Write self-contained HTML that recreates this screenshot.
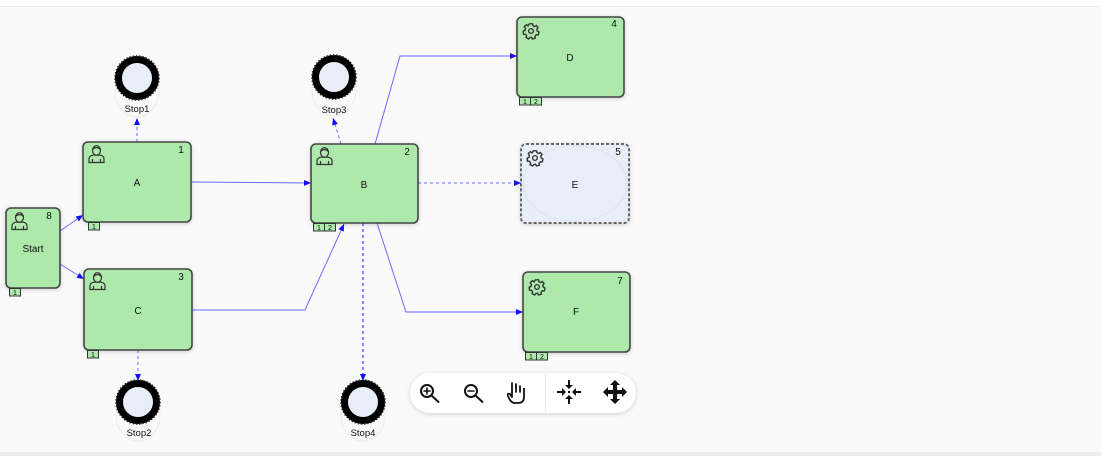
<!DOCTYPE html>
<html><head><meta charset="utf-8"><style>
html,body{margin:0;padding:0;background:#fff;}
svg{display:block;}
text{font-family:"Liberation Sans",Arial,sans-serif;fill:#111;}
</style></head><body>
<svg width="1101" height="456" viewBox="0 0 1101 456" xmlns="http://www.w3.org/2000/svg">
<defs>
<marker id="ar" markerWidth="8" markerHeight="8" refX="7" refY="4" orient="auto" markerUnits="userSpaceOnUse">
<path d="M0,1 L7,4 L0,7 Z" fill="#1010ff"/>
</marker>
<filter id="sh" x="-20%" y="-20%" width="140%" height="140%">
<feDropShadow dx="0" dy="1" stdDeviation="2" flood-color="#000" flood-opacity="0.18"/>
</filter>
<g id="person" fill="none" stroke="#333" stroke-width="1.2">
<ellipse cx="8.5" cy="5.5" rx="4" ry="4.8"/>
<path d="M4.6,4.5 Q8.5,0.5 12.4,4.5"/>
<path d="M1,17.5 L1,14 Q1,10.8 5,10.2 L12,10.2 Q16,10.8 16,14 L16,17.5 Z"/>
<path d="M4.5,14 L4.5,17.5 M12.5,14 L12.5,17.5"/>
</g>
<g id="gear" fill="none" stroke="#333">
<path d="M-1.6,-7.2 L1.6,-7.2 L2,-5.2 L3.6,-4.4 L5.3,-5.6 L7.1,-3.4 L5.8,-1.8 L6.2,0 L8,1 L7.2,4 L5.2,3.8 L4,5.2 L4.4,7.2 L1.4,8 L0.6,6.2 L-1,6.4 L-2.2,8 L-4.9,6.6 L-4.4,4.7 L-5.6,3.2 L-7.6,3.2 L-7.8,0 L-6,-0.6 L-5.6,-2.6 L-6.8,-4.4 L-4.6,-6.4 L-3,-5 Z" stroke-width="1.4" stroke-linejoin="round"/>
<circle r="2.4" stroke-width="1.3"/>
</g>
<g id="stop">
<ellipse cx="0" cy="13" rx="22" ry="26" fill="none" stroke="#ececec" stroke-width="1"/>
<circle r="18.5" fill="#e7eef8" stroke="#000" stroke-width="7"/>
<circle r="22" fill="none" stroke="#222" stroke-width="1.6" stroke-dasharray="1.4 1.8"/>
</g>
</defs>

<!-- background -->
<rect x="0" y="0" width="1101" height="456" fill="#ffffff"/>
<rect x="0" y="7" width="1101" height="446" fill="#fafafa"/>
<line x1="0" y1="6.5" x2="1101" y2="6.5" stroke="#ececec" stroke-width="1"/>
<rect x="0" y="453" width="1101" height="3" fill="#efefef"/>
<line x1="0" y1="453" x2="1101" y2="453" stroke="#e2e2e2" stroke-width="1"/>

<!-- edges -->
<g fill="none" stroke="#6a6aff" stroke-width="1">
<line x1="60" y1="231" x2="83" y2="215" marker-end="url(#ar)"/>
<line x1="60" y1="264" x2="84" y2="279" marker-end="url(#ar)"/>
<line x1="191" y1="182" x2="311" y2="183" marker-end="url(#ar)"/>
<polyline points="192,310 305,310 344,224" marker-end="url(#ar)"/>
<polyline points="375,144 400,56 517,56" marker-end="url(#ar)"/>
<polyline points="377,223 406,312 523,312" marker-end="url(#ar)"/>
<g stroke-dasharray="3 3">
<line x1="418" y1="183" x2="521" y2="183" marker-end="url(#ar)"/>
<line x1="137" y1="142" x2="137" y2="118" marker-end="url(#ar)"/>
<line x1="341" y1="144" x2="333" y2="118" marker-end="url(#ar)"/>
<line x1="138" y1="350" x2="138" y2="381" marker-end="url(#ar)"/>
<line x1="363" y1="223" x2="363" y2="381" stroke-width="1.6" marker-end="url(#ar)"/>
</g>
</g>

<!-- stops -->
<use href="#stop" x="137" y="78"/>
<text x="137" y="112" font-size="9.5" text-anchor="middle">Stop1</text>
<use href="#stop" x="334" y="77"/>
<text x="334" y="113" font-size="9.5" text-anchor="middle">Stop3</text>
<use href="#stop" x="138" y="402"/>
<text x="139" y="436" font-size="9.5" text-anchor="middle">Stop2</text>
<use href="#stop" x="363" y="402"/>
<text x="363" y="436" font-size="9.5" text-anchor="middle">Stop4</text>

<!-- nodes -->
<g stroke="#444" stroke-width="1.6" fill="#ade9aa" filter="url(#sh)">
<rect x="6" y="208" width="54" height="80" rx="5"/>
<rect x="83" y="142" width="108" height="80" rx="5"/>
<rect x="84" y="269" width="108" height="81" rx="5"/>
<rect x="311" y="144" width="107" height="79" rx="5"/>
<rect x="517" y="17" width="107" height="80" rx="5"/>
<rect x="523" y="272" width="107" height="80" rx="5"/>
</g>
<rect x="521" y="144" width="108" height="79" rx="5" fill="#e8eef8" stroke="#666" stroke-width="2" stroke-dasharray="3 2" filter="url(#sh)"/>
<ellipse cx="575" cy="183.5" rx="52" ry="38" fill="none" stroke="#dde3ec" stroke-width="1"/>

<!-- badges -->
<g fill="#ade9aa" stroke="#333" stroke-width="1">
<rect x="9.5" y="288.5" width="11" height="7.5"/>
<rect x="88.5" y="222.5" width="11" height="7.5"/>
<rect x="87.5" y="350.5" width="11" height="7.5"/>
<rect x="313.5" y="223.5" width="11" height="7.5"/><rect x="324.5" y="223.5" width="11" height="7.5"/>
<rect x="519.5" y="97.5" width="11" height="7.5"/><rect x="530.5" y="97.5" width="11" height="7.5"/>
<rect x="525.5" y="352.5" width="11" height="7.5"/><rect x="536.5" y="352.5" width="11" height="7.5"/>
</g>
<g font-size="7" text-anchor="middle">
<text x="15" y="295">1</text>
<text x="94" y="229">1</text>
<text x="93" y="357">1</text>
<text x="319" y="230">1</text><text x="330" y="230">2</text>
<text x="525" y="104">1</text><text x="536" y="104">2</text>
<text x="531" y="359">1</text><text x="542" y="359">2</text>
</g>

<!-- icons -->
<use href="#person" x="11" y="212"/>
<use href="#person" x="88" y="145"/>
<use href="#person" x="89" y="272"/>
<use href="#person" x="316" y="147"/>
<use href="#gear" x="531" y="31"/>
<use href="#gear" x="535" y="158"/>
<use href="#gear" x="537" y="287"/>

<!-- node labels -->
<g font-size="10" text-anchor="middle">
<text x="33" y="252">Start</text>
<text x="137" y="186">A</text>
<text x="138" y="314">C</text>
<text x="364" y="188">B</text>
<text x="570" y="61">D</text>
<text x="575" y="188">E</text>
<text x="576" y="315">F</text>
</g>
<g font-size="10" text-anchor="middle">
<text x="49" y="219">8</text>
<text x="181" y="153">1</text>
<text x="181" y="280">3</text>
<text x="407" y="155">2</text>
<text x="614" y="27">4</text>
<text x="618" y="155">5</text>
<text x="620" y="284">7</text>
</g>

<!-- toolbar -->
<rect x="410" y="373" width="226" height="40" rx="20" fill="#fff" filter="url(#sh)"/>
<line x1="545.5" y1="374" x2="545.5" y2="412" stroke="#ececec" stroke-width="1"/>
<g fill="none" stroke="#111" stroke-width="2" stroke-linecap="round">
<circle cx="427" cy="391" r="6"/>
<line x1="431.5" y1="395.5" x2="438.5" y2="402"/>
<line x1="424" y1="391" x2="430" y2="391" stroke-width="1.6"/>
<line x1="427" y1="388" x2="427" y2="394" stroke-width="1.6"/>
<circle cx="471" cy="391" r="6"/>
<line x1="475.5" y1="395.5" x2="482.5" y2="402"/>
<line x1="468" y1="391" x2="474" y2="391" stroke-width="1.6"/>
<path d="M512,396 L512,383 M516,392 L516,384 M520,392 L520,386 M524,392 L524,388 L524,397 Q524,403 518,403 L515,403 Q512,403 510,400 L508,396 Q507,393 510,394 L512,397" stroke-width="1.8"/>
</g>
<g fill="#111">
<rect x="568" y="380" width="2" height="6"/><path d="M565,385 L573,385 L569,389 Z"/>
<rect x="568" y="398" width="2" height="6"/><path d="M565,399 L573,399 L569,395 Z"/>
<rect x="557" y="391" width="6" height="2"/><path d="M562,388 L562,396 L566,392 Z"/>
<rect x="575" y="391" width="6" height="2"/><path d="M576,388 L576,396 L572,392 Z"/>
<rect x="568" y="391" width="2" height="2"/>
<path d="M615,380 L620,385 L617,385 L617,390 L622,390 L622,387 L627,392 L622,397 L622,394 L617,394 L617,399 L620,399 L615,404 L610,399 L613,399 L613,394 L608,394 L608,397 L603,392 L608,387 L608,390 L613,390 L613,385 L610,385 Z"/>
</g>
</svg>
</body></html>
